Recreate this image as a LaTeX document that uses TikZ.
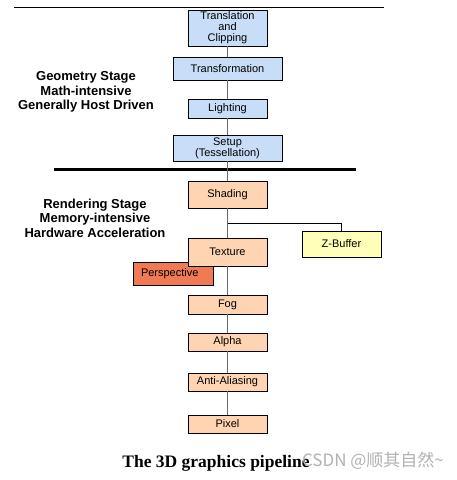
\documentclass[tikz,border=0pt]{standalone}
\usepackage{tikz}
\usetikzlibrary{positioning,calc}
\usepackage{fontspec}
\setmainfont{Liberation Sans}
\newfontfamily\capfont{Liberation Serif}
\newfontfamily\cjk{Noto Sans CJK SC}
\definecolor{GeoBlue}{RGB}{200,222,248}
\definecolor{RenSalmon}{RGB}{255,212,178}
\definecolor{ZYellow}{RGB}{255,255,185}
\definecolor{PerspRed}{RGB}{240,122,84}
\definecolor{LinkGray}{RGB}{105,105,105}
\begin{document}
\begin{tikzpicture}[x=1pt,y=-1pt,
  box/.style={draw=black,line width=0.8pt,inner sep=0pt,align=center,
              font=\fontsize{11}{11}\selectfont},
  geo/.style={box,fill=GeoBlue},
  ren/.style={box,fill=RenSalmon},
  link/.style={-,line width=1.2pt,LinkGray},
  stage/.style={align=center,font=\fontsize{13}{14.5}\selectfont\bfseries},
]
\useasboundingbox[fill=white] (0,0) rectangle (456,480);
\draw[line width=0.8pt] (14,7) -- (384,7);
\draw[line width=3pt] (54,169) -- (356,169);
% geometry stage
\node[geo,minimum width=79pt,minimum height=36pt] (clip) at (227.5,28)
  {Translation\\and\\Clipping};
\node[geo,minimum width=109pt,minimum height=23pt] (transf) at (227.5,68.5)
  {Transformation};
\node[geo,minimum width=79pt,minimum height=19pt] (light) at (227.5,108.5)
  {Lighting};
\node[geo,minimum width=109pt,minimum height=26pt] (setup) at (227.5,148)
  {Setup\\(Tessellation)};
\node[stage] (geolbl) at (86,92)
  {Geometry Stage\\Math-intensive\\Generally Host Driven};
% rendering stage
\node[ren,minimum width=79pt,minimum height=27pt] (shade) at (227.5,194.5)
  {Shading};
\node[box,fill=PerspRed,minimum width=80pt,minimum height=23pt,
      text width=64pt,align=left] (persp) at (173,273.5) {Perspective};
\node[ren,minimum width=79pt,minimum height=28pt] (tex) at (227.5,252)
  {Texture};
\node[box,fill=ZYellow,minimum width=79pt,minimum height=26pt] (zbuf)
  at (341.5,244) {Z-Buffer};
\node[ren,minimum width=79pt,minimum height=19pt] (fog) at (227.5,304.5)
  {Fog};
\node[ren,minimum width=79pt,minimum height=18pt] (alpha) at (227.5,342)
  {Alpha};
\node[ren,minimum width=79pt,minimum height=18pt] (aa) at (227.5,382)
  {Anti-Aliasing};
\node[ren,minimum width=79pt,minimum height=18pt] (pixel) at (227.5,424)
  {Pixel};
\node[stage] (renlbl) at (95,218)
  {Rendering Stage\\Memory-intensive\\Hardware Acceleration};
% connectors
\draw[link] (clip) -- (transf);
\draw[link] (transf) -- (light);
\draw[link] (light) -- (setup);
\draw[link] (setup) -- (shade);
\draw[link] (shade) -- (tex);
\coordinate (branch) at ($(shade.south)!0.5!(tex.north)$);
\draw[line width=0.8pt] (branch) -| (zbuf.north);
\draw[link] (tex) -- (fog);
\draw[link] (fog) -- (alpha);
\draw[link] (alpha) -- (aa);
\draw[link] (aa) -- (pixel);
% caption
\node[font=\capfont\fontsize{17.5}{20}\selectfont\bfseries] (cap) at (216,463)
  {The 3D graphics pipeline};
\node[font=\cjk\fontsize{17}{20}\selectfont,text=black!30] (mark) at (373,461)
  {CSDN @顺其自然\textasciitilde};
\end{tikzpicture}
\end{document}
